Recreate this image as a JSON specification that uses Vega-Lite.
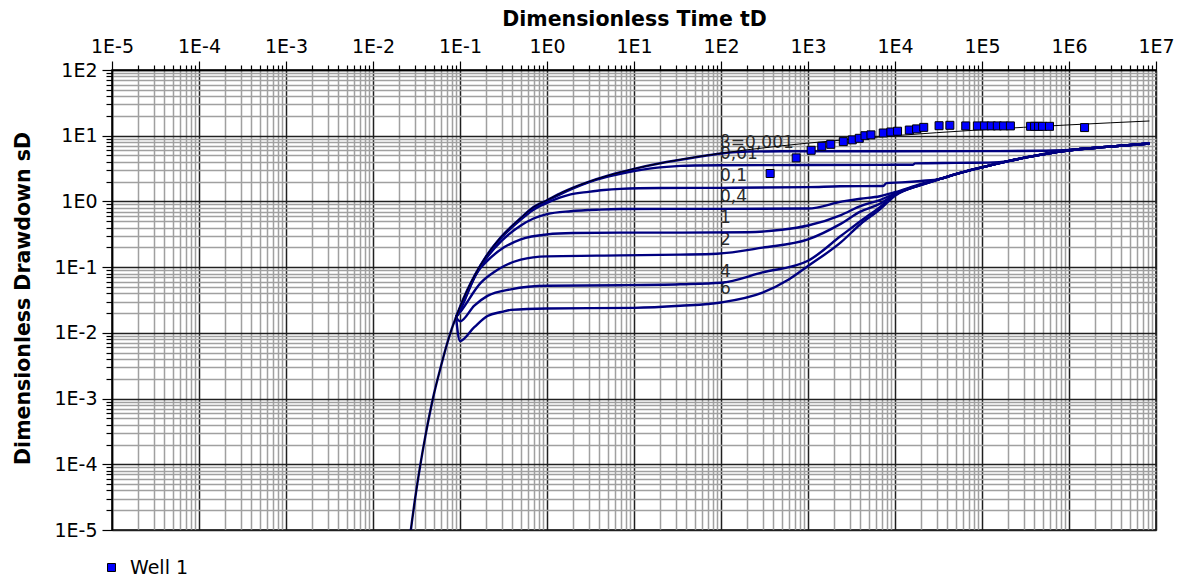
{
"$schema": "https://vega.github.io/schema/vega-lite/v6.json",
"width": 1044, "height": 460,
"autosize": "none",
"padding": {"left": 112, "top": 70, "right": 27, "bottom": 49},
"background": "white",
"config": {"view": {"stroke": "#000", "strokeWidth": 1.5}, "font": "DejaVu Sans"},
"datasets": {
"curves": [
{"b":"0.001","t":0.025,"s":4.16e-6},{"b":"0.001","t":0.028,"s":1.33e-5},{"b":"0.001","t":0.03,"s":2.6e-5},{"b":"0.001","t":0.035,"s":9.8e-5},{"b":"0.001","t":0.04,"s":2.68e-4},{"b":"0.001","t":0.05,"s":1.148e-3},{"b":"0.001","t":0.06,"s":3.0e-3},{"b":"0.001","t":0.07,"s":6.4e-3},{"b":"0.001","t":0.08,"s":0.0113},{"b":"0.001","t":0.09,"s":0.0173},{"b":"0.001","t":0.1,"s":0.0249},{"b":"0.001","t":0.12,"s":0.0436},{"b":"0.001","t":0.15,"s":0.078},{"b":"0.001","t":0.2,"s":0.147},{"b":"0.001","t":0.3,"s":0.293},{"b":"0.001","t":0.5,"s":0.56},{"b":"0.001","t":0.7,"s":0.82},{"b":"0.001","t":1,"s":1.044},{"b":"0.001","t":1.5,"s":1.374},{"b":"0.001","t":2,"s":1.623},{"b":"0.001","t":3,"s":1.989},{"b":"0.001","t":5,"s":2.468},{"b":"0.001","t":7,"s":2.79},{"b":"0.001","t":10,"s":3.137},{"b":"0.001","t":20,"s":3.817},{"b":"0.001","t":50,"s":4.68},{"b":"0.001","t":100,"s":5.35},{"b":"0.001","t":150,"s":5.62},{"b":"0.001","t":200,"s":5.74},{"b":"0.001","t":500,"s":5.8},{"b":"0.001","t":1000,"s":5.8},{"b":"0.001","t":10000,"s":5.8},{"b":"0.001","t":100000,"s":5.82},{"b":"0.001","t":270000,"s":5.85},{"b":"0.001","t":500000,"s":5.9},{"b":"0.001","t":1000000,"s":6.05},{"b":"0.001","t":2700000,"s":6.76},{"b":"0.001","t":8400000,"s":7.6},

{"b":"0.01","t":0.09,"s":0.0173},{"b":"0.01","t":0.1,"s":0.024},{"b":"0.01","t":0.15,"s":0.077},{"b":"0.01","t":0.2,"s":0.145},{"b":"0.01","t":0.3,"s":0.29},{"b":"0.01","t":0.5,"s":0.55},{"b":"0.01","t":0.7,"s":0.8},{"b":"0.01","t":1,"s":1.02},{"b":"0.01","t":2,"s":1.58},{"b":"0.01","t":3,"s":1.95},{"b":"0.01","t":5,"s":2.38},{"b":"0.01","t":7,"s":2.64},{"b":"0.01","t":10,"s":2.9},{"b":"0.01","t":15,"s":3.15},{"b":"0.01","t":20,"s":3.3},{"b":"0.01","t":34,"s":3.48},{"b":"0.01","t":50,"s":3.53},{"b":"0.01","t":100,"s":3.56},{"b":"0.01","t":1000,"s":3.58},{"b":"0.01","t":16000,"s":3.62},{"b":"0.01","t":17000,"s":3.8},{"b":"0.01","t":50000,"s":3.86},{"b":"0.01","t":120000,"s":3.9},{"b":"0.01","t":200000,"s":4.1},{"b":"0.01","t":300000,"s":4.6},{"b":"0.01","t":500000,"s":5.2},{"b":"0.01","t":1000000,"s":6.0},{"b":"0.01","t":2700000,"s":6.76},{"b":"0.01","t":8400000,"s":7.6},

{"b":"0.1","t":0.09,"s":0.0173},{"b":"0.1","t":0.1,"s":0.023},{"b":"0.1","t":0.15,"s":0.076},{"b":"0.1","t":0.2,"s":0.142},{"b":"0.1","t":0.3,"s":0.28},{"b":"0.1","t":0.5,"s":0.53},{"b":"0.1","t":0.7,"s":0.75},{"b":"0.1","t":1,"s":0.95},{"b":"0.1","t":1.87,"s":1.28},{"b":"0.1","t":3,"s":1.4},{"b":"0.1","t":4.5,"s":1.49},{"b":"0.1","t":7,"s":1.55},{"b":"0.1","t":20,"s":1.6},{"b":"0.1","t":100,"s":1.61},{"b":"0.1","t":1000,"s":1.65},{"b":"0.1","t":2335,"s":1.7},{"b":"0.1","t":7300,"s":1.72},{"b":"0.1","t":8000,"s":1.9},{"b":"0.1","t":12000,"s":1.95},{"b":"0.1","t":20000,"s":2.05},{"b":"0.1","t":33000,"s":2.2},{"b":"0.1","t":50000,"s":2.6},{"b":"0.1","t":100000,"s":3.3},{"b":"0.1","t":200000,"s":4.1},{"b":"0.1","t":300000,"s":4.6},{"b":"0.1","t":500000,"s":5.2},{"b":"0.1","t":1000000,"s":6.0},{"b":"0.1","t":2700000,"s":6.76},{"b":"0.1","t":8400000,"s":7.6},

{"b":"0.4","t":0.09,"s":0.0173},{"b":"0.4","t":0.1,"s":0.023},{"b":"0.4","t":0.15,"s":0.074},{"b":"0.4","t":0.2,"s":0.135},{"b":"0.4","t":0.3,"s":0.25},{"b":"0.4","t":0.5,"s":0.43},{"b":"0.4","t":0.7,"s":0.55},{"b":"0.4","t":1,"s":0.64},{"b":"0.4","t":1.87,"s":0.71},{"b":"0.4","t":4,"s":0.75},{"b":"0.4","t":7,"s":0.765},{"b":"0.4","t":34,"s":0.77},{"b":"0.4","t":100,"s":0.77},{"b":"0.4","t":1000,"s":0.78},{"b":"0.4","t":2500,"s":1.0},{"b":"0.4","t":4000,"s":1.1},{"b":"0.4","t":6700,"s":1.2},{"b":"0.4","t":10000,"s":1.38},{"b":"0.4","t":20000,"s":1.85},{"b":"0.4","t":33000,"s":2.2},{"b":"0.4","t":50000,"s":2.6},{"b":"0.4","t":100000,"s":3.3},{"b":"0.4","t":200000,"s":4.1},{"b":"0.4","t":300000,"s":4.6},{"b":"0.4","t":500000,"s":5.2},{"b":"0.4","t":1000000,"s":6.0},{"b":"0.4","t":2700000,"s":6.76},{"b":"0.4","t":8400000,"s":7.6},

{"b":"1","t":0.09,"s":0.0173},{"b":"1","t":0.1,"s":0.022},{"b":"1","t":0.159,"s":0.085},{"b":"1","t":0.2,"s":0.12},{"b":"1","t":0.321,"s":0.2},{"b":"1","t":0.5,"s":0.265},{"b":"1","t":1,"s":0.315},{"b":"1","t":2,"s":0.33},{"b":"1","t":7,"s":0.335},{"b":"1","t":34,"s":0.335},{"b":"1","t":200,"s":0.34},{"b":"1","t":500,"s":0.37},{"b":"1","t":1000,"s":0.43},{"b":"1","t":2400,"s":0.62},{"b":"1","t":4000,"s":0.85},{"b":"1","t":6700,"s":1.05},{"b":"1","t":10000,"s":1.32},{"b":"1","t":20000,"s":1.82},{"b":"1","t":33000,"s":2.2},{"b":"1","t":50000,"s":2.6},{"b":"1","t":100000,"s":3.3},{"b":"1","t":200000,"s":4.1},{"b":"1","t":300000,"s":4.6},{"b":"1","t":500000,"s":5.2},{"b":"1","t":1000000,"s":6.0},{"b":"1","t":2700000,"s":6.76},{"b":"1","t":8400000,"s":7.6},

{"b":"2","t":0.09,"s":0.0173},{"b":"2","t":0.1,"s":0.0205},{"b":"2","t":0.174,"s":0.058},{"b":"2","t":0.25,"s":0.085},{"b":"2","t":0.321,"s":0.104},{"b":"2","t":0.5,"s":0.13},{"b":"2","t":1,"s":0.146},{"b":"2","t":7,"s":0.151},{"b":"2","t":34,"s":0.155},{"b":"2","t":90,"s":0.16},{"b":"2","t":300,"s":0.198},{"b":"2","t":1000,"s":0.265},{"b":"2","t":2400,"s":0.46},{"b":"2","t":4000,"s":0.7},{"b":"2","t":6700,"s":0.92},{"b":"2","t":10000,"s":1.28},{"b":"2","t":20000,"s":1.8},{"b":"2","t":33000,"s":2.2},{"b":"2","t":50000,"s":2.6},{"b":"2","t":100000,"s":3.3},{"b":"2","t":200000,"s":4.1},{"b":"2","t":300000,"s":4.6},{"b":"2","t":500000,"s":5.2},{"b":"2","t":1000000,"s":6.0},{"b":"2","t":2700000,"s":6.76},{"b":"2","t":8400000,"s":7.6},

{"b":"4","t":0.09,"s":0.0173},{"b":"4","t":0.1,"s":0.015},{"b":"4","t":0.146,"s":0.026},{"b":"4","t":0.207,"s":0.0366},{"b":"4","t":0.384,"s":0.046},{"b":"4","t":1,"s":0.052},{"b":"4","t":7,"s":0.053},{"b":"4","t":34,"s":0.055},{"b":"4","t":100,"s":0.058},{"b":"4","t":300,"s":0.083},{"b":"4","t":1000,"s":0.125},{"b":"4","t":2400,"s":0.3},{"b":"4","t":4000,"s":0.5},{"b":"4","t":6700,"s":0.82},{"b":"4","t":10000,"s":1.25},{"b":"4","t":20000,"s":1.79},{"b":"4","t":33000,"s":2.2},{"b":"4","t":50000,"s":2.6},{"b":"4","t":100000,"s":3.3},{"b":"4","t":200000,"s":4.1},{"b":"4","t":300000,"s":4.6},{"b":"4","t":500000,"s":5.2},{"b":"4","t":1000000,"s":6.0},{"b":"4","t":2700000,"s":6.76},{"b":"4","t":8400000,"s":7.6},

{"b":"6","t":0.09,"s":0.0173},{"b":"6","t":0.1,"s":0.0075},{"b":"6","t":0.146,"s":0.0122},{"b":"6","t":0.207,"s":0.018},{"b":"6","t":0.3,"s":0.0208},{"b":"6","t":0.384,"s":0.0224},{"b":"6","t":1,"s":0.0235},{"b":"6","t":10,"s":0.024},{"b":"6","t":34,"s":0.0258},{"b":"6","t":100,"s":0.029},{"b":"6","t":300,"s":0.041},{"b":"6","t":600,"s":0.065},{"b":"6","t":1000,"s":0.104},{"b":"6","t":2400,"s":0.24},{"b":"6","t":4000,"s":0.45},{"b":"6","t":6700,"s":0.76},{"b":"6","t":10000,"s":1.22},{"b":"6","t":20000,"s":1.78},{"b":"6","t":33000,"s":2.2},{"b":"6","t":50000,"s":2.6},{"b":"6","t":100000,"s":3.3},{"b":"6","t":200000,"s":4.1},{"b":"6","t":300000,"s":4.6},{"b":"6","t":500000,"s":5.2},{"b":"6","t":1000000,"s":6.0},{"b":"6","t":2700000,"s":6.76},{"b":"6","t":8400000,"s":7.6}
],
"theis": [
{"t":0.025,"s":4.16e-6},{"t":0.028,"s":1.33e-5},{"t":0.03,"s":2.6e-5},{"t":0.035,"s":9.8e-5},{"t":0.04,"s":2.68e-4},{"t":0.05,"s":1.148e-3},{"t":0.06,"s":3.0e-3},{"t":0.07,"s":6.4e-3},{"t":0.08,"s":0.0113},{"t":0.09,"s":0.0173},{"t":0.1,"s":0.0249},{"t":0.12,"s":0.0436},{"t":0.15,"s":0.078},{"t":0.2,"s":0.147},{"t":0.3,"s":0.293},{"t":0.5,"s":0.56},{"t":0.7,"s":0.82},{"t":1,"s":1.044},{"t":1.5,"s":1.374},{"t":2,"s":1.623},{"t":3,"s":1.989},{"t":5,"s":2.468},{"t":7,"s":2.79},{"t":10,"s":3.137},{"t":20,"s":3.817},{"t":50,"s":4.726},{"t":100,"s":5.417},{"t":200,"s":6.11},{"t":500,"s":7.02},{"t":1000,"s":7.717},{"t":3000,"s":8.81},{"t":10000,"s":10.02},{"t":30000,"s":11.12},{"t":100000,"s":12.32},{"t":300000,"s":13.42},{"t":1000000,"s":14.62},{"t":3000000,"s":15.72},{"t":8400000,"s":16.75}
],
"labels": [
{"label":"β=0,001","t":100,"s":7.86},{"label":"0,01","t":100,"s":5.35},{"label":"0,1","t":100,"s":2.48},{"label":"0,4","t":100,"s":1.15},{"label":"1","t":100,"s":0.552},{"label":"2","t":100,"s":0.26},{"label":"4","t":100,"s":0.0837},{"label":"6","t":100,"s":0.0462}
],
"well": [
{"well":"Well 1","t":367,"s":2.66},{"well":"Well 1","t":731,"s":4.6},{"well":"Well 1","t":1087,"s":6.0},{"well":"Well 1","t":1439,"s":6.9},{"well":"Well 1","t":1825,"s":7.4},{"well":"Well 1","t":2546,"s":8.13},{"well":"Well 1","t":3228,"s":8.64},{"well":"Well 1","t":3883,"s":9.13},{"well":"Well 1","t":4517,"s":10.0},{"well":"Well 1","t":5292,"s":10.3},{"well":"Well 1","t":7326,"s":11.0},{"well":"Well 1","t":8974,"s":11.4},{"well":"Well 1","t":10700,"s":11.7},{"well":"Well 1","t":14600,"s":12.2},{"well":"Well 1","t":17700,"s":12.7},{"well":"Well 1","t":21400,"s":13.4},{"well":"Well 1","t":32100,"s":14.2},{"well":"Well 1","t":42700,"s":14.4},{"well":"Well 1","t":65000,"s":14.1},{"well":"Well 1","t":88500,"s":14.1},{"well":"Well 1","t":107000,"s":14.1},{"well":"Well 1","t":128000,"s":14.1},{"well":"Well 1","t":150000,"s":14.1},{"well":"Well 1","t":177000,"s":14.1},{"well":"Well 1","t":212000,"s":14.1},{"well":"Well 1","t":362000,"s":13.9},{"well":"Well 1","t":402000,"s":13.9},{"well":"Well 1","t":447000,"s":13.9},{"well":"Well 1","t":497000,"s":13.9},{"well":"Well 1","t":597000,"s":13.9},{"well":"Well 1","t":1510000,"s":13.3}
]
},
"encoding": {
"x": {"field": "t", "type": "quantitative",
 "scale": {"type": "log", "domain": [1e-5, 1e7], "nice": false},
 "axis": {"orient": "top", "title": "Dimensionless Time tD",
  "titleFont": "DejaVu Sans", "titleFontSize": 20.5, "titleFontWeight": "bold", "titleColor": "#000",
  "titleX": 522, "titleY": -51, "titleBaseline": "middle", "titleAlign": "center", "titleAngle": 0,
  "values": [1e-5,2e-5,3e-5,4e-5,5e-5,6e-5,7e-5,8e-5,9e-5,1e-4,2e-4,3e-4,4e-4,5e-4,6e-4,7e-4,8e-4,9e-4,1e-3,2e-3,3e-3,4e-3,5e-3,6e-3,7e-3,8e-3,9e-3,0.01,0.02,0.03,0.04,0.05,0.06,0.07,0.08,0.09,0.1,0.2,0.3,0.4,0.5,0.6,0.7,0.8,0.9,1,2,3,4,5,6,7,8,9,10,20,30,40,50,60,70,80,90,100,200,300,400,500,600,700,800,900,1000,2000,3000,4000,5000,6000,7000,8000,9000,10000,20000,30000,40000,50000,60000,70000,80000,90000,1e5,2e5,3e5,4e5,5e5,6e5,7e5,8e5,9e5,1e6,2e6,3e6,4e6,5e6,6e6,7e6,8e6,9e6,1e7],
  "labelExpr": "abs(log(datum.value)/LN10 - round(log(datum.value)/LN10)) < 0.001 ? '1E' + round(log(datum.value)/LN10) : ''",
  "labelFont": "DejaVu Sans", "labelFontSize": 19, "labelColor": "#000",
  "labelOverlap": false, "labelFlush": false, "labelBound": false, "labelPadding": 5,
  "tickSize": {"condition": {"test": "abs(log(datum.value)/LN10 - round(log(datum.value)/LN10)) < 0.001", "value": 9}, "value": 5},
  "tickColor": "#000", "tickWidth": 1.2,
  "grid": true,
  "gridColor": {"condition": {"test": "abs(log(datum.value)/LN10 - round(log(datum.value)/LN10)) < 0.001", "value": "#202020"}, "value": "#a0a0a0"},
  "gridWidth": 1.5, "gridOpacity": 1,
  "domain": true, "domainColor": "#000", "domainWidth": 1.5}
},
"y": {"field": "s", "type": "quantitative",
 "scale": {"type": "log", "domain": [1e-5, 100], "nice": false},
 "axis": {"orient": "left", "title": "Dimensionless Drawdown sD",
  "titleFont": "DejaVu Sans", "titleFontSize": 20.5, "titleFontWeight": "bold", "titleColor": "#000",
  "titleX": -89, "titleY": 228, "titleBaseline": "middle", "titleAlign": "center", "titleAngle": -90,
  "values": [1e-5,2e-5,3e-5,4e-5,5e-5,6e-5,7e-5,8e-5,9e-5,1e-4,2e-4,3e-4,4e-4,5e-4,6e-4,7e-4,8e-4,9e-4,1e-3,2e-3,3e-3,4e-3,5e-3,6e-3,7e-3,8e-3,9e-3,0.01,0.02,0.03,0.04,0.05,0.06,0.07,0.08,0.09,0.1,0.2,0.3,0.4,0.5,0.6,0.7,0.8,0.9,1,2,3,4,5,6,7,8,9,10,20,30,40,50,60,70,80,90,100],
  "labelExpr": "abs(log(datum.value)/LN10 - round(log(datum.value)/LN10)) < 0.001 ? '1E' + round(log(datum.value)/LN10) : ''",
  "labelFont": "DejaVu Sans", "labelFontSize": 19, "labelColor": "#000",
  "labelOverlap": false, "labelFlush": false, "labelBound": false, "labelPadding": 5,
  "tickSize": {"condition": {"test": "abs(log(datum.value)/LN10 - round(log(datum.value)/LN10)) < 0.001", "value": 10}, "value": 6},
  "tickColor": "#000", "tickWidth": 1.2,
  "grid": true,
  "gridColor": {"condition": {"test": "abs(log(datum.value)/LN10 - round(log(datum.value)/LN10)) < 0.001", "value": "#202020"}, "value": "#a0a0a0"},
  "gridWidth": 1.5, "gridOpacity": 1,
  "domain": true, "domainColor": "#000", "domainWidth": 1.5}
}
},
"layer": [
{"data": {"name": "labels"},
 "mark": {"type": "text", "align": "left", "baseline": "middle", "font": "DejaVu Sans", "fontSize": 17, "color": "#2b2b2b", "dx": -1},
 "encoding": {"text": {"field": "label", "type": "nominal"}}},
{"data": {"name": "curves"},
 "mark": {"type": "line", "color": "#000080", "strokeWidth": 2.4, "clip": true, "interpolate": "monotone"},
 "encoding": {"detail": {"field": "b", "type": "nominal"}}},
{"data": {"name": "theis"},
 "mark": {"type": "line", "color": "#000", "strokeWidth": 1, "clip": true, "interpolate": "monotone"},
 "encoding": {}},
{"data": {"name": "well"},
 "mark": {"type": "point", "shape": "square", "filled": true, "size": 64, "stroke": "#000", "strokeWidth": 1, "opacity": 1},
 "encoding": {"color": {"field": "well", "type": "nominal", "scale": {"range": ["#0000ff"]},
  "legend": {"orient": "none", "legendX": -10, "legendY": 488, "title": null, "symbolType": "square", "symbolSize": 64,
   "symbolStrokeColor": "#000", "symbolStrokeWidth": 1, "symbolOpacity": 1, "labelFont": "DejaVu Sans", "labelFontSize": 19, "labelColor": "#000", "labelOffset": 9, "padding": 0}}}}
]
}
